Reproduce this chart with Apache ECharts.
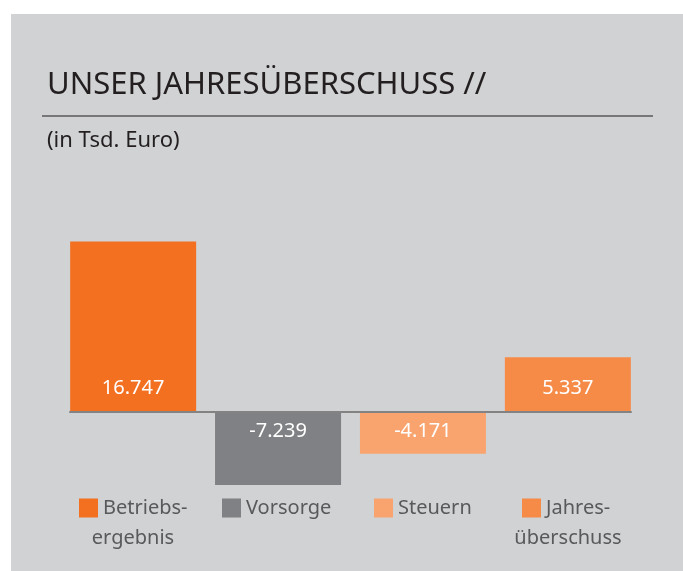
<!DOCTYPE html>
<html>
<head>
<meta charset="utf-8">
<script src="https://cdn.jsdelivr.net/npm/echarts@6/dist/echarts.min.js"></script>
<style>
  html, body { margin: 0; padding: 0; background: #fff; }
  #chart { width: 683px; height: 571px; }
</style>
</head>
<body>
<div id="chart"></div>
<script>
  // Werte in Tsd. Euro
  const categories = ['Betriebsergebnis', 'Vorsorge', 'Steuern', 'Jahresüberschuss'];
  const values = [16747, -7239, -4171, 5337];
  const legendFirst = ['Betriebs-', 'Vorsorge', 'Steuern', 'Jahres-'];
  const legendSecond = ['ergebnis', '', '', 'überschuss'];
  const colors = ['#f37021', '#808184', '#f9a46f', '#f68b48'];

  const font = '"Noto Sans", "Open Sans", sans-serif';

  // 16747 -> "16.747"
  function fmt(v) {
    const s = String(Math.abs(v)).replace(/\B(?=(\d{3})+(?!\d))/g, '.');
    return (v < 0 ? '-' : '') + s;
  }

  const myChart = echarts.init(document.getElementById('chart'));

  const legendLeft = [79, 222, 374, 522];
  const secondLineX = [133, 0, 0, 568];

  const series = categories.map(function (name, i) {
    const neg = values[i] < 0;
    return {
      name: name,
      type: 'bar',
      barWidth: 126,
      barGap: '15%',
      itemStyle: { color: colors[i] },
      label: {
        show: true,
        position: neg ? 'insideTop' : 'insideBottom',
        distance: neg ? 10 : 13,
        color: '#fff',
        fontSize: 20,
        fontFamily: font,
        formatter: function (p) { return fmt(p.value); }
      },
      data: [values[i]]
    };
  });

  const graphics = [
    {
      type: 'rect', z: -10, silent: true,
      shape: { x: 11, y: 14, width: 672, height: 557 },
      style: { fill: '#d1d2d4' }
    },
    {
      type: 'line', silent: true,
      shape: { x1: 42, y1: 116, x2: 653, y2: 116 },
      style: { stroke: '#58595b', lineWidth: 1.5 }
    }
  ];
  legendSecond.forEach(function (t, i) {
    if (!t) return;
    graphics.push({
      type: 'text', silent: true,
      x: secondLineX[i], y: 538,
      style: {
        text: t, fill: '#58595b', fontSize: 20, fontFamily: font,
        textAlign: 'center', textVerticalAlign: 'middle'
      }
    });
  });

  const option = {
    backgroundColor: '#fff',
    animation: false,
    title: [
      {
        text: 'UNSER JAHRESÜBERSCHUSS //',
        left: 47, top: 70, padding: 0,
        textStyle: { fontSize: 31, fontWeight: 'normal', color: '#231f20', fontFamily: font }
      },
      {
        text: '(in Tsd. Euro)',
        left: 47, top: 130, padding: 0,
        textStyle: { fontSize: 22, fontWeight: 'normal', color: '#231f20', fontFamily: font }
      }
    ],
    legend: categories.map(function (name, i) {
      return {
        left: legendLeft[i], top: 498, padding: 0,
        data: [name],
        icon: 'rect', itemWidth: 19, itemHeight: 19,
        selectedMode: false,
        formatter: function () { return legendFirst[i]; },
        textStyle: { fontSize: 20, color: '#58595b', fontFamily: font, padding: [6, 0, 0, 0] }
      };
    }),
    grid: { left: 70, width: 561, top: 208.5, height: 304.5 },
    xAxis: {
      type: 'category',
      data: [''],
      z: 5,
      axisLine: { onZero: true, lineStyle: { color: '#838383', width: 2 } },
      axisTick: { show: false },
      axisLabel: { show: false },
      splitLine: { show: false }
    },
    yAxis: {
      type: 'value',
      min: -10000,
      max: 20000,
      show: false
    },
    graphic: graphics,
    series: series
  };
  myChart.setOption(option);
</script>
</body>
</html>
